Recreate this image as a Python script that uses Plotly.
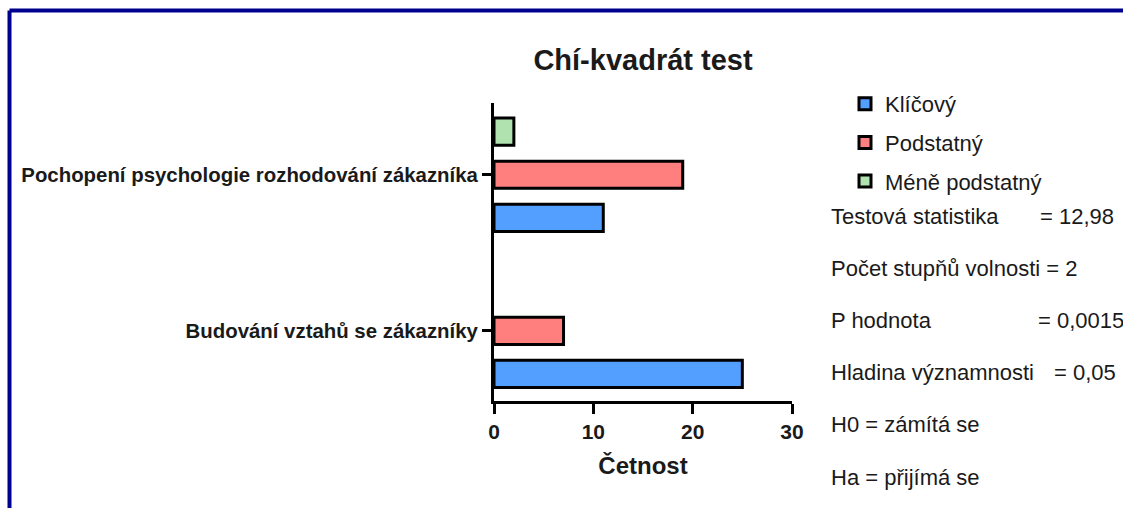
import plotly.graph_objects as go

# Data
categories = ["Pochopení psychologie rozhodování zákazníka", "Budování vztahů se zákazníky"]
series_names = ["Klíčový", "Podstatný", "Méně podstatný"]
klicovy = [11, 25]
podstatny = [19, 7]
mene_podstatny = [2, 0]
colors = ["#529fff", "#ff7f7f", "#b0e2b0"]

stat_labels = ["Testová statistika", "Počet stupňů volnosti = 2", "P hodnota",
               "Hladina významnosti", "H0 = zámítá se", "Ha = přijímá se"]
stat_values = ["= 12,98", "", "= 0,0015", "= 0,05", "", ""]
x_ticks = [0, 10, 20, 30]

W, H = 1123, 508
L, R, T, B = 494, 331, 103, 107
PW, PH = W - L - R, H - T - B

FONT = "Liberation Sans, Arial, sans-serif"
TXT = "#1a1a1a"

fig = go.Figure()
for i, (name, vals) in enumerate(zip(series_names, [klicovy, podstatny, mene_podstatny])):
    fig.add_trace(go.Bar(
        y=categories, x=vals, name=name, orientation="h",
        marker=dict(color=colors[i],
                    line=dict(color="black", width=[3 if v > 0 else 0 for v in vals])),
        legendgroup=name,
    ))


def px_x(p):
    return (p - L) / PW


def px_y(p):
    return (H - B - p) / PH


annotations = []
y0 = 216
value_x = {0: 1038, 2: 1036, 3: 1052}
for i, (lab, val) in enumerate(zip(stat_labels, stat_values)):
    y = y0 + i * 52.2
    annotations.append(dict(
        text=lab, x=px_x(829), y=px_y(y), xref="paper", yref="paper",
        xanchor="left", yanchor="middle", showarrow=False,
        font=dict(size=22, color=TXT, family=FONT),
    ))
    if val:
        annotations.append(dict(
            text=val, x=px_x(value_x[i]), y=px_y(y), xref="paper", yref="paper",
            xanchor="left", yanchor="middle", showarrow=False,
            font=dict(size=22, color=TXT, family=FONT),
        ))

# dark blue frame (top and left edges visible)
shapes = [
    dict(type="line", xref="paper", yref="paper", x0=px_x(9.5), x1=px_x(1200),
         y0=px_y(10.5), y1=px_y(10.5), line=dict(color="#00008f", width=4)),
    dict(type="line", xref="paper", yref="paper", x0=px_x(9.5), x1=px_x(9.5),
         y0=px_y(10.5), y1=px_y(600), line=dict(color="#00008f", width=4)),
]

fig.update_layout(
    width=W, height=H,
    margin=dict(l=L, r=R, t=T, b=B),
    paper_bgcolor="white", plot_bgcolor="white",
    font=dict(family=FONT, color=TXT),
    barmode="group", bargap=0.17, bargroupgap=0.37,
    title=dict(text="<b>Chí-kvadrát test</b>", x=(L + PW / 2) / W,
               xanchor="center", y=1 - 60 / H, yanchor="middle",
               font=dict(size=29, color=TXT, family=FONT)),
    legend=dict(x=px_x(845), y=px_y(83), xanchor="left", yanchor="top",
                font=dict(size=22, color=TXT, family=FONT),
                traceorder="grouped", tracegroupgap=7, itemwidth=30),
    annotations=annotations,
    shapes=shapes,
)
fig.update_xaxes(
    range=[0, 30], tickvals=x_ticks, showgrid=False, zeroline=False,
    showline=True, linecolor="black", linewidth=3,
    ticks="outside", ticklen=10, tickwidth=3, tickcolor="black",
    tickfont=dict(size=21, color=TXT, family=FONT, weight="bold"),
    title=dict(text="<b>Četnost</b>", font=dict(size=24, color=TXT, family=FONT), standoff=15),
)
fig.update_yaxes(
    range=[-0.45, 1.46], showgrid=False, zeroline=False,
    categoryorder="array", categoryarray=categories[::-1],
    showline=True, linecolor="black", linewidth=3,
    ticks="outside", ticklen=9, tickwidth=3, tickcolor="black",
    tickfont=dict(size=20.4, color=TXT, family=FONT, weight="bold"),
)

fig.write_html("out.html", config={"displayModeBar": False},
               post_script="document.body.style.margin='0';")
